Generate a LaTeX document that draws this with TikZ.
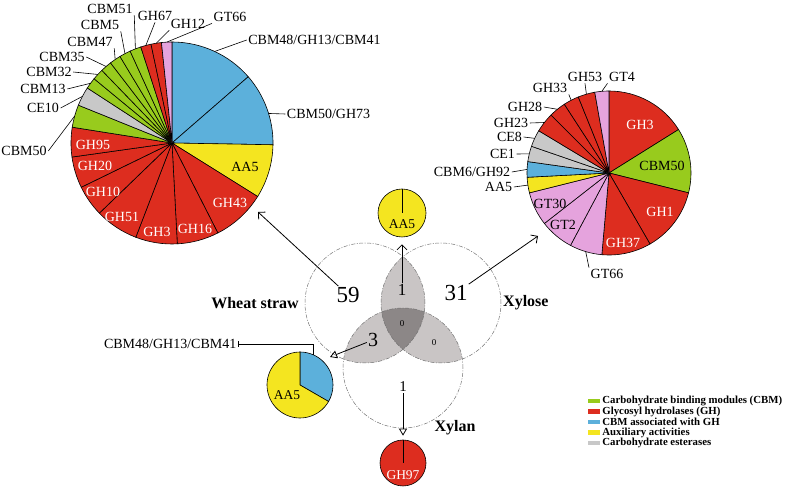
\documentclass[tikz,border=0pt]{standalone}
\usepackage{fontspec}
\setmainfont{Liberation Serif}
\usetikzlibrary{arrows.meta,positioning,calc}
\definecolor{cred}{RGB}{221,45,31}
\definecolor{cgreen}{RGB}{152,203,29}
\definecolor{cblue}{RGB}{92,176,219}
\definecolor{cyel}{RGB}{244,229,32}
\definecolor{cgray}{RGB}{200,200,200}
\definecolor{cpink}{RGB}{229,163,221}
\definecolor{lgray}{RGB}{201,197,197}
\definecolor{dgray}{RGB}{140,135,135}
\newcommand{\pieslice}[5]{\filldraw[fill=#5, line width=0.6pt] (#1) -- ++(#2:#4) arc[start angle=#2, end angle=#3, radius=#4] -- cycle}

\begin{document}
\begin{tikzpicture}[x=1pt,y=1pt,lab/.style={font=\fontsize{14}{16}\selectfont, inner sep=1.5pt},wlab/.style={lab, text=white},slab/.style={font=\fontsize{13.5}{15}\selectfont, inner sep=1pt},num/.style={font=\fontsize{23}{25}\selectfont, inner sep=1pt},setname/.style={font=\fontsize{16}{18}\selectfont\bfseries, inner sep=1pt},lead/.style={line width=0.6pt},arr/.style={line width=0.8pt, -{Straight Barb[length=5pt,width=10pt]}},tarr/.style={line width=0.8pt, -{Triangle[open,length=7pt,width=8pt]}},venn/.style={draw=black!55, line width=0.5pt, dash pattern=on 4pt off 1.5pt on 1pt off 1.5pt},minipie/.style={circle, draw, line width=0.6pt, inner sep=0pt},swatch/.style={minimum width=12pt, minimum height=4.5pt, inner sep=0pt},leg/.style={font=\fontsize{10.8}{12}\selectfont\bfseries, inner sep=1pt}]
\useasboundingbox (0,0) rectangle (785,503);
\coordinate (wc) at (172,360); \coordinate (rc) at (609,330); \coordinate (mc) at (300,118);
\coordinate (vw) at (365,200); \coordinate (vx) at (441,200); \coordinate (vl) at (403,135);
\begin{scope}\clip (vw) circle (60); \fill[lgray] (vx) circle (60); \fill[lgray] (vl) circle (60);\end{scope}
\begin{scope}\clip (vx) circle (60); \fill[lgray] (vl) circle (60);\end{scope}
\begin{scope}\clip (vw) circle (60); \clip (vx) circle (60); \fill[dgray] (vl) circle (60);\end{scope}
\foreach \c in {vw,vx,vl} \draw[venn] (\c) circle (60);
\foreach \a/\b/\c in {90/41/cblue,41/-1/cblue,-1/-32/cyel,-32/-63/cred,-63/-87/cred,-87/-111/cred,-111/-136/cred,-136/-154/cred,-154/-172/cred,-172/-189/cred,171/158/cgreen,158/147/cgray,147/140.5/cgreen,140.5/134/cgreen,134/127.5/cgreen,127.5/121/cgreen,121/114.5/cgreen,114.5/108/cgreen,108/102/cred,102/96/cred,96/90/cpink} \pieslice{wc}{\a}{\b}{101}{\c};
\foreach \a/\b/\c in {90/32/cred,32/-14/cgreen,-14/-60/cred,-60/-95/cred,-95/-118/cpink,-118/-142/cpink,-142/-166/cpink,-166/-177/cyel,-177/-188/cblue,172/161/cgray,161/149/cgray,149/135/cred,135/123/cred,123/112/cred,112/100/cred,100/90/cpink} \pieslice{rc}{\a}{\b}{82}{\c};
\foreach \n/\p in {GH95/{93,358},GH20/{95,337},GH10/{103,311},GH51/{122,286},GH3/{157,271},GH16/{195,274},GH43/{230,300}} \node[wlab] (wi\n) at (\p) {\n};
\node[lab] (wiAA5) at (245,336) {AA5};
\foreach \n/\p in {GH3/{640,378},GH1/{660,291},GH37/{623,260}} \node[wlab] (ri\n) at (\p) {\n};
\foreach \n/\p in {CBM50/{662,337},GT2/{563,278},GT30/{550,299}} \node[lab] (ri\n) at (\p) {\n};
\foreach \n/\t/\p/\an/\ang in {w1/CBM51/{110,494}/south east/111.25,w2/CBM5/{100,478}/south east/117.75,w3/CBM47/{90,461}/south east/124.25,w4/CBM35/{62,446}/east/130.75,w5/CBM32/{49,431}/east/137.25,w6/CBM13/{43,414}/east/143.75,w7/CE10/{43,395}/east/152.5,w8/CBM50/{24,352}/east/164.5,w9/GH67/{155,487}/south/105,w10/GH12/{188,479}/south west/99,w11/GT66/{230,486}/south west/93,w12/{CBM48/GH13/CBM41}/{314.5,463}/west/65,w13/{CBM50/GH73}/{328.6,389}/west/17}
  {\node[lab] (\n) at (\p) {\t}; \draw[lead] (\n.\an) -- ($(wc)+(\ang:101)$);}
\foreach \n/\t/\p/\an/\ang in {r1/AA5/{498.5,316}/east/-171.5,r2/{CBM6/GH92}/{472,331}/east/177.5,r3/CE1/{502.5,349}/east/166.5,r4/CE8/{509.5,366}/east/155,r5/GH23/{511,380}/east/142,r6/GH28/{525,396}/east/129,r7/GH33/{550,415}/south east/117.5,r8/GH53/{585,426}/south/106,r9/GT4/{622,426}/south west/95,r10/GT66/{607,229}/north west/-106.5}
  {\node[lab] (\n) at (\p) {\t}; \draw[lead] (\n.\an) -- ($(rc)+(\ang:82)$);}
\node[setname, anchor=east] (wheat) at (300,200) {Wheat straw};\node[setname, anchor=west] (xylose) at (502,200) {Xylose};\node[setname] (xylan) at (455,75) {Xylan};
\node[num] (n59) at (348,208) {59};\node[num] (n31) at (456,210) {31};
\node[font=\fontsize{17}{19}\selectfont, inner sep=1pt] (n1a) at (402,213) {1};\node[font=\fontsize{20}{22}\selectfont, inner sep=1pt] (n3) at (373,163) {3};
\node[font=\fontsize{15}{17}\selectfont, inner sep=1pt] (n1b) at (403,116) {1};
\node[font=\fontsize{9}{10}\selectfont] (n0a) at (402,179) {0};\node[font=\fontsize{9}{10}\selectfont] (n0b) at (434,160) {0};
\node[minipie, fill=cyel, minimum size=48pt] (pAA5) at (402,290) {};\draw[lead] (pAA5.center) -- (pAA5.north);\node[slab] (aAA5) at (402,279) {AA5};
\node[minipie, fill=cred, minimum size=46pt] (pGH97) at (403,40) {};\draw[lead] (pGH97.center) -- (pGH97.north);\node[slab, text=white] (aGH97) at (403,28) {GH97};
\pieslice{mc}{90}{-30}{33}{cblue};\pieslice{mc}{-30}{-270}{33}{cyel};\node[slab] (aMix) at (287,108) {AA5};
\coordinate (mb) at ($(mc)+(67:33)$);\node[lab, anchor=east] (lMix) at (238,159) {CBM48/GH13/CBM41};\draw[lead, {Bar[width=6pt]}-] (lMix.east) -| (mb);
\coordinate (tw) at (258,291); \coordinate (tx) at (538,267); \coordinate (t3) at (330,146);
\draw[arr] (n59) -- (tw);\draw[arr] (n31) -- (tx);\draw[arr, shorten >=7pt] (n1a) -- (pAA5);
\draw[tarr] (n3) -- (t3);\draw[tarr, shorten >=4pt] (n1b) -- (pGH97);
\foreach \c/\t/\y [count=\i] in {cgreen/Carbohydrate binding modules (CBM)/102,cred/Glycosyl hydrolases (GH)/91.5,cblue/CBM associated with GH/81,cyel/Auxiliary activities/70.5,cgray/Carbohydrate esterases/60}
  {\node[swatch, fill=\c] (s\i) at (594,\y) {}; \node[leg, right=1pt of s\i] (g\i) {\t};}
\end{tikzpicture}
\end{document}
